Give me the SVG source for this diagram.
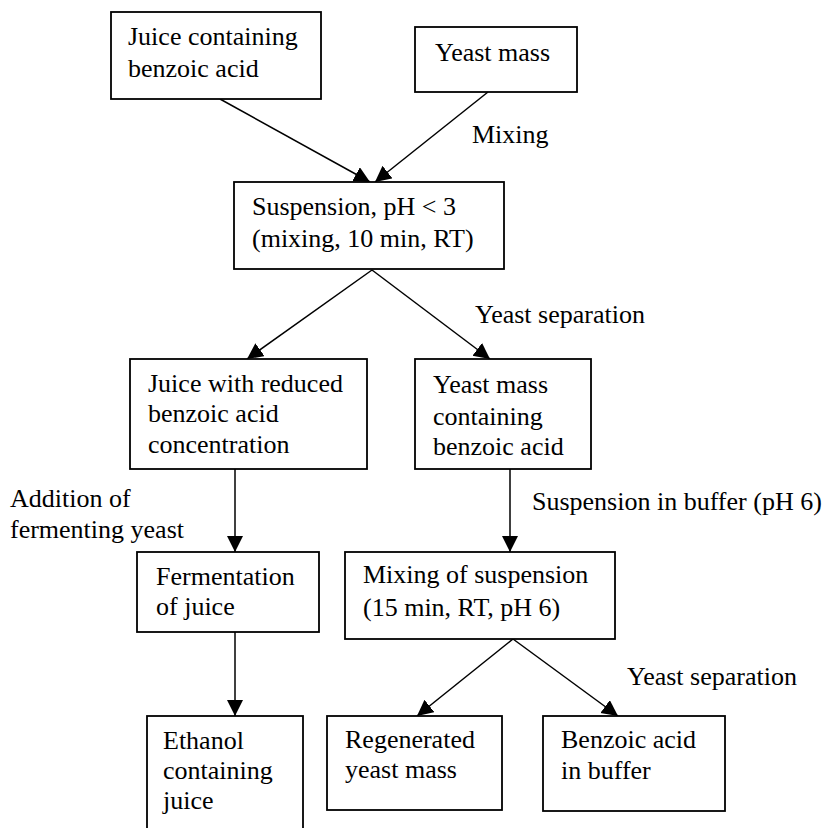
<svg xmlns="http://www.w3.org/2000/svg" width="833" height="828" viewBox="0 0 833 828">
<style>
.box{fill:#fff;stroke:#000;stroke-width:1.8}
text{font-family:"Liberation Serif","Times New Roman",serif;font-size:26px;fill:#000}
.ln{stroke:#000;stroke-width:1.5;fill:none;marker-end:url(#ah)}
</style>
<defs>
<marker id="ah" markerUnits="userSpaceOnUse" markerWidth="18" markerHeight="18" refX="16" refY="8" orient="auto">
<path d="M0,0 L16,8 L0,16 z" fill="#000"/>
</marker>
</defs>
<rect width="833" height="828" fill="#fff"/>
<g id="connectors">
<line class="ln" x1="220" y1="99" x2="370" y2="182"/>
<line class="ln" x1="488" y1="92" x2="375" y2="182"/>
<line class="ln" x1="372" y1="270" x2="247" y2="359"/>
<line class="ln" x1="372" y1="270" x2="490" y2="359"/>
<line class="ln" x1="235" y1="469" x2="235" y2="552"/>
<line class="ln" x1="510" y1="469" x2="510" y2="552"/>
<line class="ln" x1="235" y1="632" x2="235" y2="716"/>
<line class="ln" x1="513" y1="639" x2="417" y2="716"/>
<line class="ln" x1="513" y1="639" x2="618" y2="716"/>
</g>
<g id="labels">
<text x="472" y="143">Mixing</text>
<text x="475" y="323">Yeast separation</text>
<text x="10" y="507">Addition of</text>
<text x="10" y="538">fermenting yeast</text>
<text x="532" y="510">Suspension in buffer (pH 6)</text>
<text x="627" y="685">Yeast separation</text>
</g>
<g id="n1">
<rect class="box" x="111" y="12" width="210" height="87"/>
<text x="128" y="45">Juice containing</text>
<text x="128" y="77">benzoic acid</text>
</g>
<g id="n2">
<rect class="box" x="415" y="27" width="162" height="65"/>
<text x="435" y="61">Yeast mass</text>
</g>
<g id="n3">
<rect class="box" x="234" y="182" width="270" height="87"/>
<text x="252" y="215">Suspension, pH &lt; 3</text>
<text x="252" y="247">(mixing, 10 min, RT)</text>
</g>
<g id="n4">
<rect class="box" x="130" y="359" width="237" height="110"/>
<text x="148" y="392">Juice with reduced</text>
<text x="148" y="422">benzoic acid</text>
<text x="148" y="453">concentration</text>
</g>
<g id="n5">
<rect class="box" x="415" y="359" width="176" height="110"/>
<text x="433" y="393">Yeast mass</text>
<text x="433" y="425">containing</text>
<text x="433" y="455">benzoic acid</text>
</g>
<g id="n6">
<rect class="box" x="137" y="552" width="182" height="80"/>
<text x="156" y="585">Fermentation</text>
<text x="156" y="615">of juice</text>
</g>
<g id="n7">
<rect class="box" x="345" y="552" width="270" height="87"/>
<text x="363" y="583">Mixing of suspension</text>
<text x="363" y="616">(15 min, RT, pH 6)</text>
</g>
<g id="n8">
<rect class="box" x="147" y="716" width="156" height="140"/>
<text x="163" y="749">Ethanol</text>
<text x="163" y="779">containing</text>
<text x="163" y="809">juice</text>
</g>
<g id="n9">
<rect class="box" x="327" y="716" width="175" height="94"/>
<text x="345" y="748">Regenerated</text>
<text x="345" y="778">yeast mass</text>
</g>
<g id="n10">
<rect class="box" x="543" y="716" width="182" height="95"/>
<text x="561" y="748">Benzoic acid</text>
<text x="561" y="779">in buffer</text>
</g>
</svg>
